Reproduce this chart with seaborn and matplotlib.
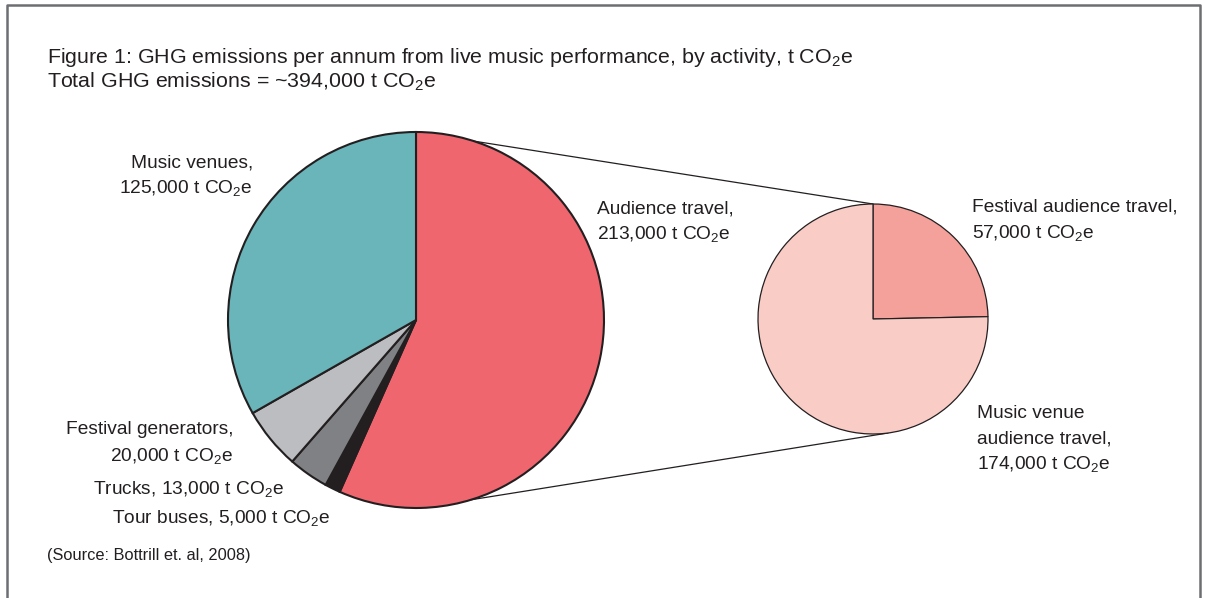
import numpy as np
import matplotlib
import matplotlib.pyplot as plt
import seaborn as sns

# data (t CO2e)
main_labels = ['Audience travel', 'Tour buses', 'Trucks', 'Festival generators', 'Music venues']
main_vals = [213000, 5000, 13000, 20000, 125000]
main_cols = ['#F0666F', '#231F20', '#808184', '#BCBDC0', '#6AB5BA']

sub_labels = ['Festival audience travel', 'Music venue audience travel']
sub_vals = [57000, 174000]
sub_cols = ['#F4A09B', '#F9CCC6']

total = 394000

sns.set_style("white")
plt.rcParams['font.family'] = ['Liberation Sans', 'DejaVu Sans']
plt.rcParams['mathtext.fontset'] = 'custom'
plt.rcParams['mathtext.rm'] = 'Liberation Sans'
plt.rcParams['mathtext.it'] = 'Liberation Sans:italic'

W, H = 1205, 598
fig = plt.figure(figsize=(W / 100, H / 100), dpi=100)
ax = fig.add_axes([0, 0, 1, 1])

def Y(y):
    return H - y

CO2 = r't CO$_2$e'
fmt = lambda v: '{:,}'.format(v)

# main pie
c1, r1 = (416, Y(320)), 188
ax.pie(main_vals, colors=main_cols, startangle=90, counterclock=False,
       center=c1, radius=r1,
       wedgeprops=dict(edgecolor='#231F20', linewidth=1.5))
# sub pie
c2, r2 = (873, Y(319)), 115
ax.pie(sub_vals, colors=sub_cols, startangle=90, counterclock=False,
       center=c2, radius=r2,
       wedgeprops=dict(edgecolor='#231F20', linewidth=0.9))

# connector lines
def on_circle(c, r, deg):
    a = np.deg2rad(deg)
    return c[0] + r * np.cos(a), c[1] + r * np.sin(a)

p1 = on_circle(c1, r1, 90); q1 = on_circle(c2, r2, 90)
p2 = on_circle(c1, r1, -73); q2 = on_circle(c2, r2, -82.5)
ax.plot([p1[0], q1[0]], [p1[1], q1[1]], color='#231F20', lw=0.9, zorder=0)
ax.plot([p2[0], q2[0]], [p2[1], q2[1]], color='#231F20', lw=0.9, zorder=0)

ax.set_xlim(0, W)
ax.set_ylim(0, H)
ax.set_aspect('equal')
ax.axis('off')

# frame
fc = '#6D6E71'
ax.plot([7, 7, 1200, 1200], [0, Y(5), Y(5), 0], color=fc, lw=1.8, clip_on=False)

tc = '#231F20'
fs = 13.8
# titles
ax.text(47, Y(63), 'Figure 1: GHG emissions per annum from live music performance, by activity, ' + CO2,
        fontsize=15.4, color=tc, ha='left', va='baseline')
ax.text(47, Y(88), 'Total GHG emissions = ~' + fmt(total) + ' ' + CO2,
        fontsize=15.4, color=tc, ha='left', va='baseline')

# labels main pie
ax.text(253, Y(168), main_labels[4] + ',', fontsize=fs, color=tc, ha='right', va='baseline')
ax.text(253, Y(193), fmt(main_vals[4]) + ' ' + CO2, fontsize=fs, color=tc, ha='right', va='baseline')
ax.text(597, Y(214), main_labels[0] + ',', fontsize=fs, color=tc, ha='left', va='baseline')
ax.text(597, Y(239), fmt(main_vals[0]) + ' ' + CO2, fontsize=fs, color=tc, ha='left', va='baseline')
ax.text(233, Y(434), main_labels[3] + ',', fontsize=fs, color=tc, ha='right', va='baseline')
ax.text(233, Y(461), fmt(main_vals[3]) + ' ' + CO2, fontsize=fs, color=tc, ha='right', va='baseline')
ax.text(284, Y(494), main_labels[2] + ', ' + fmt(main_vals[2]) + ' ' + CO2,
        fontsize=fs, color=tc, ha='right', va='baseline')
ax.text(331, Y(523), main_labels[1] + ', ' + fmt(main_vals[1]) + ' ' + CO2,
        fontsize=fs, color=tc, ha='right', va='baseline')

# labels sub pie
ax.text(972, Y(211), sub_labels[0] + ',', fontsize=fs, color=tc, ha='left', va='baseline')
ax.text(972, Y(238), fmt(sub_vals[0]) + ' ' + CO2, fontsize=fs, color=tc, ha='left', va='baseline')
ax.text(977, Y(418), 'Music venue', fontsize=fs, color=tc, ha='left', va='baseline')
ax.text(977, Y(444), 'audience travel,', fontsize=fs, color=tc, ha='left', va='baseline')
ax.text(977, Y(469), fmt(sub_vals[1]) + ' ' + CO2, fontsize=fs, color=tc, ha='left', va='baseline')

ax.text(47, Y(560), '(Source: Bottrill et. al, 2008)', fontsize=11.8, color=tc, ha='left', va='baseline')

plt.savefig('out.png', dpi=100)
